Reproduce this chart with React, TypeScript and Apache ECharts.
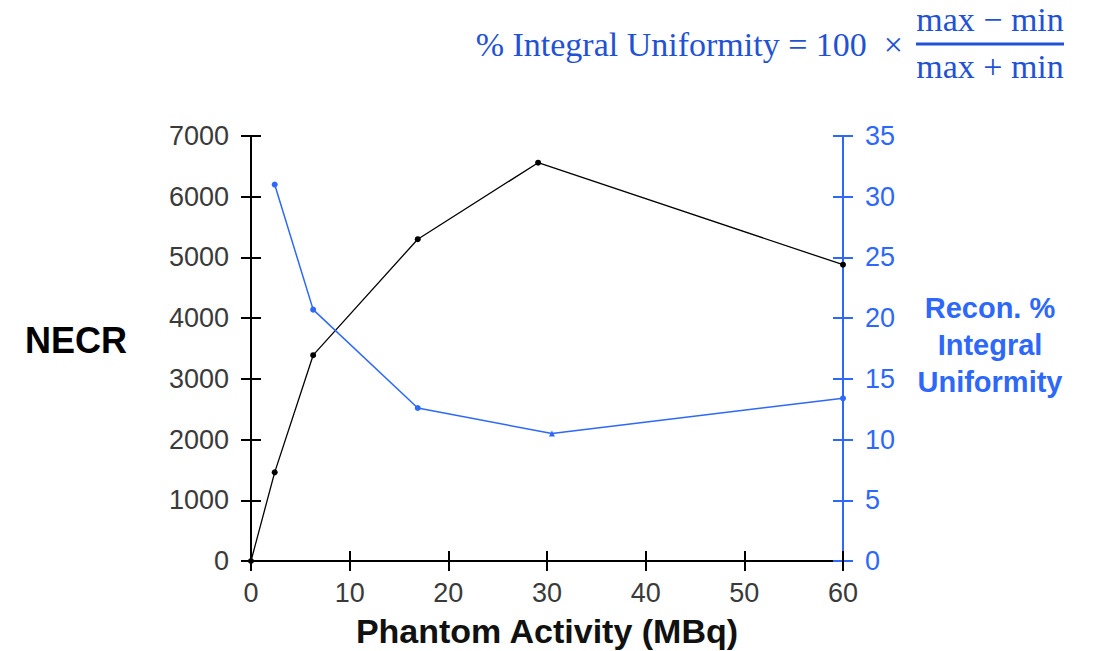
import React, { useEffect, useRef } from "react";
import * as echarts from "echarts";

const activity = [0, 2.4, 6.3, 16.9, 29.1, 60];
const necr = [0, 1460, 3390, 5300, 6560, 4880];
const uniActivity = [2.4, 6.3, 16.9, 30.5, 60];
const uniformity = [31.0, 20.7, 12.6, 10.5, 13.4];
const uniSymbols = ["circle", "circle", "circle", "triangle", "circle"];

const xTicks = { min: 0, max: 60, interval: 10 };
const leftTicks = { min: 0, max: 7000, interval: 1000 };
const rightTicks = { min: 0, max: 35, interval: 5 };

const BLUE = "#2d68fa";
const FORMULA_BLUE = "#1f52d4";

export default function App() {
  const ref = useRef<HTMLDivElement>(null);
  useEffect(() => {
    document.body.style.margin = "0";
    const chart = echarts.init(ref.current!, undefined, { renderer: "svg" });
    const tickFont = { fontFamily: "Liberation Sans", fontSize: 27 };
    const plain = (v: number) => String(v);
    chart.setOption({
      animation: false,
      backgroundColor: "#ffffff",
      grid: { left: 251, right: 251, top: 136, bottom: 90, containLabel: false, outerBoundsMode: "none" },
      xAxis: [
        {
          type: "value",
          position: "bottom",
          ...xTicks,
          axisLine: { onZero: false, lineStyle: { color: "#000", width: 2 } },
          axisTick: { inside: false, length: 10, lineStyle: { color: "#000", width: 2 } },
          axisLabel: { ...tickFont, color: "#3a3a3a", margin: 18, formatter: plain },
          splitLine: { show: false },
          name: "Phantom Activity (MBq)",
          nameLocation: "middle",
          nameGap: 53,
          nameTextStyle: { fontFamily: "Liberation Sans", fontSize: 34, fontWeight: "bold", color: "#111" },
        },
        {
          type: "value",
          position: "bottom",
          ...xTicks,
          axisLine: { show: false, onZero: false },
          axisTick: { inside: true, length: 10, lineStyle: { color: "#000", width: 2 } },
          axisLabel: { show: false },
          splitLine: { show: false },
        },
      ],
      yAxis: [
        {
          type: "value",
          position: "left",
          ...leftTicks,
          axisLine: { show: true, onZero: false, lineStyle: { color: "#000", width: 2 } },
          axisTick: { show: true, inside: false, length: 10, lineStyle: { color: "#000", width: 2 } },
          axisLabel: { ...tickFont, color: "#3a3a3a", margin: 22, formatter: plain },
          splitLine: { show: false },
        },
        {
          type: "value",
          position: "right",
          ...rightTicks,
          axisLine: { show: true, onZero: false, lineStyle: { color: BLUE, width: 2 } },
          axisTick: { show: true, inside: false, length: 10, lineStyle: { color: BLUE, width: 2 } },
          axisLabel: { ...tickFont, color: BLUE, margin: 22, formatter: plain },
          splitLine: { show: false },
        },
        {
          type: "value",
          position: "left",
          ...leftTicks,
          axisLine: { show: false, onZero: false },
          axisTick: { show: true, inside: true, length: 10, lineStyle: { color: "#000", width: 2 } },
          axisLabel: { show: false },
          splitLine: { show: false },
        },
        {
          type: "value",
          position: "right",
          ...rightTicks,
          axisLine: { show: false, onZero: false },
          axisTick: { show: true, inside: true, length: 10, lineStyle: { color: BLUE, width: 2 } },
          axisLabel: { show: false },
          splitLine: { show: false },
        },
      ],
      series: [
        {
          name: "NECR",
          type: "line",
          xAxisIndex: 0,
          yAxisIndex: 0,
          data: activity.map((a, i) => [a, necr[i]]),
          symbol: "circle",
          symbolSize: 6,
          lineStyle: { color: "#000", width: 1.3 },
          itemStyle: { color: "#000" },
          z: 3,
        },
        {
          name: "Uniformity",
          type: "line",
          xAxisIndex: 0,
          yAxisIndex: 1,
          data: uniActivity.map((a, i) => ({ value: [a, uniformity[i]], symbol: uniSymbols[i] })),
          symbolSize: 6,
          lineStyle: { color: BLUE, width: 1.5 },
          itemStyle: { color: BLUE },
          z: 4,
        },
      ],
      graphic: [
        {
          type: "text",
          left: 25,
          top: 322,
          style: { text: "NECR", fontFamily: "Liberation Sans", fontSize: 36, fontWeight: "bold", fill: "#000" },
        },
        {
          type: "text",
          x: 990,
          y: 345,
          style: {
            text: "Recon. %\nIntegral\nUniformity",
            fontFamily: "Liberation Sans",
            fontSize: 29,
            fontWeight: "bold",
            fill: BLUE,
            align: "center",
            verticalAlign: "middle",
            lineHeight: 37,
          },
        },
        {
          type: "text",
          x: 903,
          y: 44,
          style: {
            text: "% Integral Uniformity = 100  ×",
            fontFamily: "Liberation Serif",
            fontSize: 34,
            fill: FORMULA_BLUE,
            align: "right",
            verticalAlign: "middle",
          },
        },
        {
          type: "text",
          x: 990,
          y: 19,
          style: {
            text: "max − min",
            fontFamily: "Liberation Serif",
            fontSize: 34,
            fill: FORMULA_BLUE,
            align: "center",
            verticalAlign: "middle",
          },
        },
        {
          type: "line",
          shape: { x1: 916, y1: 44, x2: 1064, y2: 44 },
          style: { stroke: FORMULA_BLUE, lineWidth: 3 },
        },
        {
          type: "text",
          x: 990,
          y: 66,
          style: {
            text: "max + min",
            fontFamily: "Liberation Serif",
            fontSize: 34,
            fill: FORMULA_BLUE,
            align: "center",
            verticalAlign: "middle",
          },
        },
      ],
    });
    return () => chart.dispose();
  }, []);
  return <div ref={ref} style={{ width: 1094, height: 651 }} />;
}
